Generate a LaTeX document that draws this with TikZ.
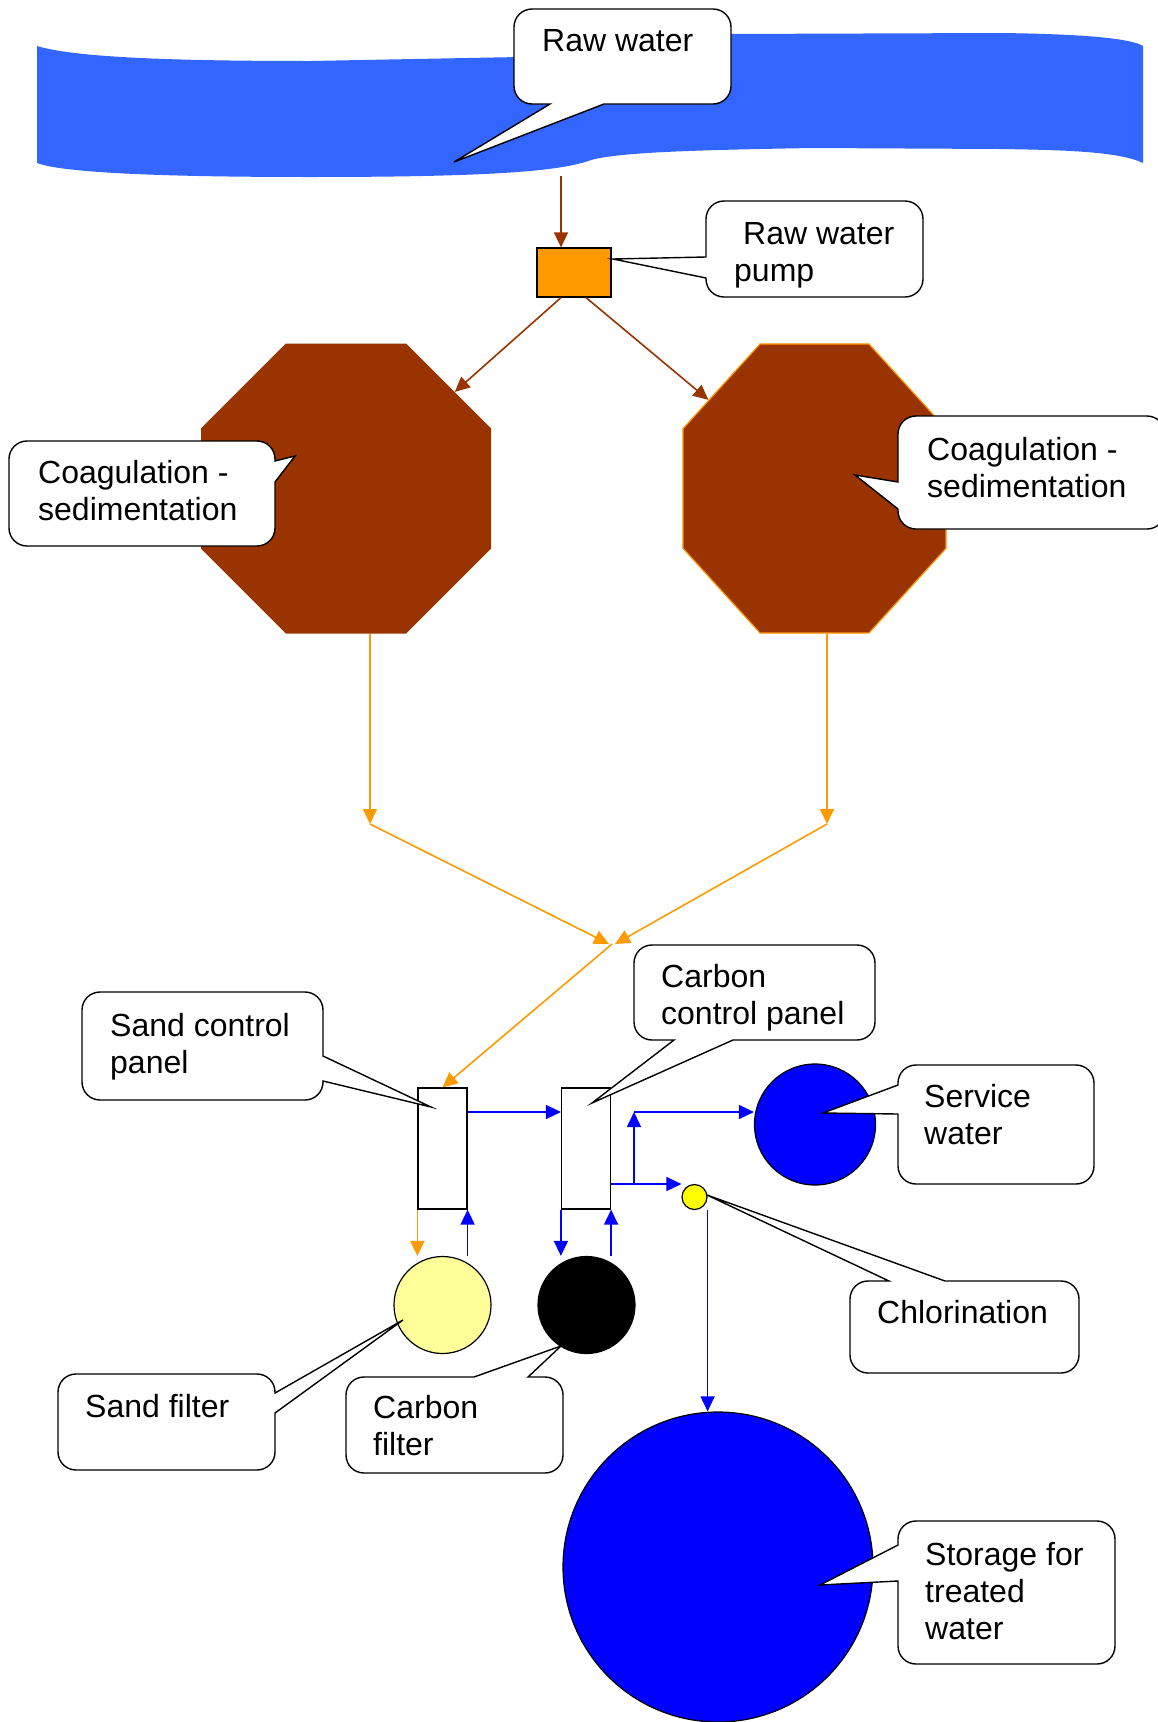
\documentclass[tikz,border=0pt]{standalone}
\usepackage{fontspec}
\setmainfont{Liberation Sans}
\usetikzlibrary{arrows.meta,shapes.geometric}
\definecolor{water}{HTML}{3366FF}
\definecolor{brick}{HTML}{993300}
\definecolor{amber}{HTML}{FF9900}
\definecolor{sandy}{HTML}{FFFF99}
\definecolor{chlory}{HTML}{FFFF00}
\definecolor{deepblue}{HTML}{0000FF}
\newcommand{\tagtxt}[1]{\begin{tabular}[t]{@{}l@{}}#1\end{tabular}}

\begin{document}
\begin{tikzpicture}[x=1pt,y=-1pt,
  >={Triangle[length=15pt,width=14pt]},
  flow/.style={line width=1.6pt,->},
  tag/.style={draw=black,fill=white,line width=1.4pt,rounded corners=18pt},
  tagtext/.style={anchor=base west,inner sep=0pt,font=\fontsize{32}{37}\selectfont},
  tank/.style={regular polygon,regular polygon sides=8,fill=brick,inner sep=0pt},
  panel/.style={draw,fill=white,line width=1.2pt,minimum width=49pt,minimum height=121pt,inner sep=0pt},
  filt/.style={circle,draw=black,line width=1.2pt,inner sep=0pt}]
\useasboundingbox (0,0) rectangle (1158,1722);
% river
\fill[water] (37,46) .. controls (70,56) and (150,61) .. (310,61) -- (520,57) -- (725,34) -- (1000,33)
  .. controls (1080,34) and (1130,38) .. (1143,46) -- (1143,163)
  .. controls (1120,152) and (1070,150) .. (1000,149) -- (812,148)
  .. controls (700,150) and (620,152) .. (591,160) .. controls (560,172) and (480,177) .. (310,177)
  .. controls (150,177) and (60,172) .. (37,163) -- cycle;
\coordinate (intake) at (561,176);
% units
\node[draw,fill=amber,line width=1.2pt,minimum width=74pt,minimum height=49pt,inner sep=0pt] (pump) at (574,272.5) {};
\node[tank,minimum size=313.9pt] (tankL) at (346,488.5) {};
\node[tank,draw=amber,line width=1.2pt,minimum size=284.7pt,transform shape,yscale=1.099] (tankR) at (814.5,488.5) {};
\node[panel] (panelS) at (442.5,1148.5) {};
\node[panel] (panelC) at (586,1148.5) {};
\node[filt,fill=sandy,minimum size=97pt] (sandF) at (442.5,1305) {};
\node[filt,fill=black,minimum size=97pt] (carbF) at (586.5,1305) {};
\node[filt,fill=chlory,minimum size=25pt] (chlor) at (694.5,1197) {};
\node[filt,fill=deepblue,minimum size=121pt] (svc) at (815,1124.5) {};
\node[filt,fill=deepblue,minimum size=310pt] (store) at (718,1567) {};
\coordinate (bendL) at (370,824);
\coordinate (bendR) at (827,824);
\coordinate (merge) at (612,944);
\coordinate (split) at (634,1184);
\coordinate (rise) at (634,1112);
% flows
\draw[flow,brick] (intake) -- ([xshift=-13pt]pump.north);
\draw[flow,brick] ([xshift=-13pt]pump.south) -- (tankL);
\draw[flow,brick] ([xshift=12pt]pump.south) -- (tankR);
\draw[flow,amber] ([xshift=24pt]tankL.south) -- (bendL);
\draw[flow,amber] ([xshift=12.5pt]tankR.south) -- (bendR);
\draw[flow,amber] (bendL) -- ([xshift=-3pt]merge);
\draw[flow,amber] (bendR) -- ([xshift=3pt]merge);
\draw[flow,amber] (merge) -- (panelS.north);
\draw[flow,amber] (panelS.south west) -- (panelS.south west |- sandF.north);
\draw[flow,deepblue] (sandF.north -| panelS.south east) -- (panelS.south east);
\draw[flow,deepblue] (panelS.east |- rise) -- (panelC.west |- rise);
\draw[flow,deepblue] (panelC.south west) -- (panelC.south west |- carbF.north);
\draw[flow,deepblue] (carbF.north -| panelC.south east) -- (panelC.south east);
\draw[flow,deepblue] (panelC.east |- split) -- (chlor.west |- split);
\draw[flow,deepblue] (split) -- (rise);
\draw[flow,deepblue] (rise) -- (svc.west |- rise);
\draw[flow,deepblue] (chlor.east |- chlor.south) -- (chlor.east |- store.north);
% callouts
\draw[tag] (622,9) -- (731,9) -- (731,104) [sharp corners] -- (604,104) -- (454,162) -- (550,104) [rounded corners=18pt] -- (514,104) -- (514,9) -- cycle;
\node[tagtext] (rawtxt) at (542,51) {Raw water};
\draw[tag] (800,201) -- (923,201) -- (923,297) -- (706,297) [sharp corners] -- (706,278) -- (613,259) -- (706,257) [rounded corners=18pt] -- (706,201) -- cycle;
\node[tagtext] (pumptxt) at (734,244) {\tagtxt{\hspace*{9pt}Raw water\\pump}};
\draw[tag] (140,441) -- (275,441) [sharp corners] -- (275,461) -- (295,456) -- (275,482) [rounded corners=18pt] -- (275,546) -- (9,546) -- (9,441) -- cycle;
\node[tagtext] (coagtxtL) at (38,483) {\tagtxt{Coagulation -\\sedimentation}};
\draw[tag] (1030,416) -- (1165,416) -- (1165,529) -- (898,529) [sharp corners] -- (898,509) -- (855,475) -- (898,482) [rounded corners=18pt] -- (898,416) -- cycle;
\node[tagtext] (coagtxtR) at (927,460) {\tagtxt{Coagulation -\\sedimentation}};
\draw[tag] (200,992) -- (323,992) [sharp corners] -- (323,1056) -- (431,1107) -- (323,1081) [rounded corners=18pt] -- (323,1100) -- (82,1100) -- (82,992) -- cycle;
\node[tagtext] (sandtxt) at (110,1036) {\tagtxt{Sand control\\panel}};
\draw[tag] (754,945) -- (875,945) -- (875,1040) [sharp corners] -- (733,1040) -- (592,1103) -- (674,1040) [rounded corners=18pt] -- (634,1040) -- (634,945) -- cycle;
\node[tagtext] (carbtxt) at (661,987) {\tagtxt{Carbon\\control panel}};
\draw[tag] (1000,1065) -- (1094,1065) -- (1094,1184) -- (898,1184) [sharp corners] -- (898,1114) -- (823,1113) -- (898,1085) [rounded corners=18pt] -- (898,1065) -- cycle;
\node[tagtext] (svctxt) at (924,1107) {\tagtxt{Service\\water}};
\draw[tag] (1000,1281) -- (1079,1281) -- (1079,1373) -- (850,1373) -- (850,1281) [sharp corners] -- (889,1281) -- (707,1195) -- (945,1281) [rounded corners=18pt] -- cycle;
\node[tagtext] (chlortxt) at (877,1323) {Chlorination};
\draw[tag] (160,1374) -- (275,1374) [sharp corners] -- (275,1393) -- (403,1320) -- (275,1413) [rounded corners=18pt] -- (275,1470) -- (58,1470) -- (58,1374) -- cycle;
\node[tagtext] (sandftxt) at (85,1417) {Sand filter};
\draw[tag] (400,1377) [sharp corners] -- (474,1377) -- (561,1346) -- (528,1377) [rounded corners=18pt] -- (563,1377) -- (563,1473) -- (346,1473) -- (346,1377) -- cycle;
\node[tagtext] (carbftxt) at (373,1418) {\tagtxt{Carbon\\filter}};
\draw[tag] (1000,1521) -- (1115,1521) -- (1115,1664) -- (898,1664) [sharp corners] -- (898,1581) -- (820,1585) -- (898,1545) [rounded corners=18pt] -- (898,1521) -- cycle;
\node[tagtext] (storetxt) at (925,1565) {\tagtxt{Storage for\\treated\\water}};
\end{tikzpicture}
\end{document}
